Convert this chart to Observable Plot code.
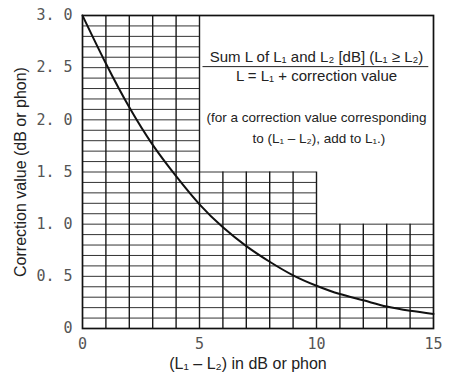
<!DOCTYPE html>
<html>
<head>
<meta charset="utf-8">
<script src="https://cdn.jsdelivr.net/npm/d3@7"></script>
<script src="https://cdn.jsdelivr.net/npm/@observablehq/plot@0.6"></script>
<style>
  html, body { margin: 0; padding: 0; background: #fff; }
  svg { display: block; }
</style>
</head>
<body>
<div id="chart"></div>
<script>
// Level difference (L1 - L2) in dB, and read correction values
const levelDiff = [0, 1, 2, 3, 4, 5, 6, 7, 8, 9, 10, 11, 12, 13, 14, 15];
const correction = [3.0, 2.54, 2.12, 1.76, 1.46, 1.19, 0.97, 0.79, 0.64, 0.51, 0.41, 0.33, 0.27, 0.21, 0.17, 0.14];

// Stepped grid regions: start of each x-band and height of the grid in it
const bandStart = [0, 5, 10];
const bandEnd = [5, 10, 15];
const bandTop = [3.0, 1.5, 1.0];

// Tick labels
const xTicks = [0, 5, 10, 15];
const xTickLabels = ["0", "5", "10", "15"];
const yTicks = [0, 0.5, 1.0, 1.5, 2.0, 2.5, 3.0];
const yTickLabels = ["0", "0. 5", "1. 0", "1. 5", "2. 0", "2. 5", "3. 0"];

const titleLine1 = "Sum L of L\u2081 and L\u2082 [dB] (L\u2081 \u2265 L\u2082)";
const titleLine2 = "L = L\u2081 + correction value";
const noteLine1 = "(for a correction value corresponding";
const noteLine2 = "to (L\u2081 \u2013 L\u2082), add to L\u2081.)";
const xLabel = "(L\u2081 \u2013 L\u2082) in dB or phon";
const yLabel = "Correction value (dB or phon)";

// Build grid segments from the band definitions
const topAt = (x) => {
  let t = 0;
  for (let i = 0; i < bandStart.length; i++) {
    if (x >= bandStart[i] && x <= bandEnd[i]) t = Math.max(t, bandTop[i]);
  }
  return t;
};
const vLines = d3.range(1, 15).map(x => ({x, y2: topAt(x)}));
const hLines = d3.range(1, 30).map(k => {
  const y = k / 10;
  let xe = 0;
  for (let i = 0; i < bandStart.length; i++) if (bandTop[i] >= y - 1e-9) xe = bandEnd[i];
  return {y, x2: xe};
});
const curve = levelDiff.map((d, i) => ({d, c: correction[i]}));

const plot = Plot.plot({
  width: 450,
  height: 374,
  marginLeft: 82,
  marginRight: 17,
  marginTop: 15,
  marginBottom: 46,
  x: {domain: [0, 15]},
  y: {domain: [0, 3]},
  style: {fontFamily: "'Liberation Sans', Arial, sans-serif", background: "#fff"},
  marks: [
    Plot.ruleY(hLines, {y: "y", x1: 0, x2: "x2", stroke: "#333", strokeWidth: 1}),
    Plot.ruleX(vLines, {x: "x", y1: 0, y2: "y2", stroke: "#1a1a1a", strokeWidth: 1.4}),
    Plot.frame({stroke: "#111", strokeWidth: 1.7}),
    Plot.line(curve, {x: "d", y: "c", curve: "natural", stroke: "#111", strokeWidth: 2}),
    Plot.axisX({ticks: xTicks, tickFormat: (d) => xTickLabels[xTicks.indexOf(d)], tickSize: 0, tickPadding: 10,
      fontSize: 15, fontFamily: "'DejaVu Sans Mono', monospace", fill: "#555", label: null}),
    Plot.axisY({ticks: yTicks, tickFormat: (d) => yTickLabels[yTicks.indexOf(d)], tickSize: 0, tickPadding: 10,
      fontSize: 15, fontFamily: "'DejaVu Sans Mono', monospace", fill: "#555", label: null}),
    Plot.text([yLabel], {frameAnchor: "left", dx: -62, rotate: -90, textAnchor: "middle", fontSize: 16, fill: "#222"}),
    Plot.text([xLabel], {frameAnchor: "bottom", dy: 40, dx: -10, fontSize: 16, fill: "#222"}),
    Plot.text([titleLine1], {x: 10, y: 2.6, fontSize: 15, fill: "#222"}),
    Plot.ruleY([2.51], {x1: 5.15, x2: 14.8, stroke: "#222", strokeWidth: 1}),
    Plot.text([titleLine2], {x: 10, y: 2.42, fontSize: 15, fill: "#222"}),
    Plot.text([noteLine1], {x: 10, y: 2.02, fontSize: 13.5, fill: "#222"}),
    Plot.text([noteLine2], {x: 10.1, y: 1.82, fontSize: 13.5, fill: "#222"})
  ]
});
document.getElementById("chart").append(plot);
</script>
</body>
</html>
